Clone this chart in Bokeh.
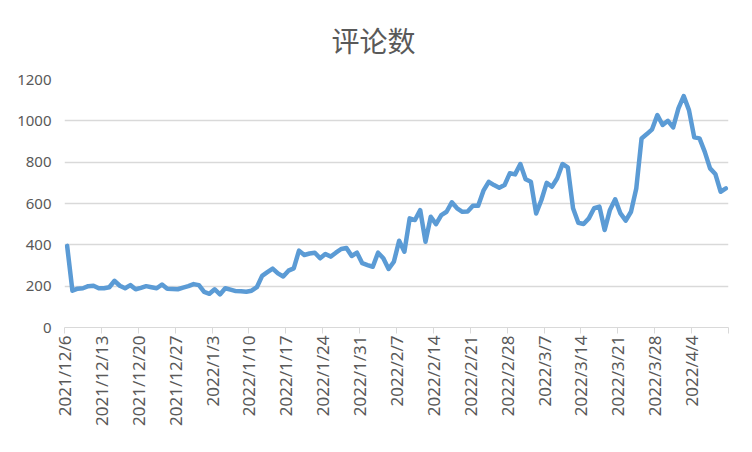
from bokeh.plotting import figure
from bokeh.models import ColumnDataSource, FixedTicker, Range1d
from bokeh.embed import file_html
from bokeh.resources import INLINE

# 评论数, one value per day from 2021/12/6 to 2022/4/10
comments = [395, 178, 188, 190, 200, 202, 190, 190, 195, 226,
            202, 190, 205, 185, 192, 200, 195, 190, 208, 187,
            186, 185, 193, 200, 210, 205, 172, 163, 185, 160,
            190, 183, 176, 175, 173, 178, 195, 250, 268, 285,
            262, 247, 275, 286, 372, 351, 358, 362, 335, 356,
            343, 362, 380, 385, 346, 362, 311, 302, 294, 362,
            335, 283, 318, 420, 367, 528, 520, 568, 415, 536,
            500, 544, 560, 606, 577, 560, 561, 589, 589, 662,
            705, 689, 676, 689, 746, 741, 791, 717, 705, 552,
            617, 700, 681, 722, 791, 775, 577, 507, 501, 528,
            577, 585, 472, 569, 620, 552, 517, 560, 673, 915,
            936, 959, 1028, 980, 1000, 968, 1060, 1120, 1052, 920,
            915, 850, 770, 743, 657, 673]

# weekly tick labels (every 7 days from the first day)
tick_labels = ["2021/12/6", "2021/12/13", "2021/12/20", "2021/12/27",
               "2022/1/3", "2022/1/10", "2022/1/17", "2022/1/24",
               "2022/1/31", "2022/2/7", "2022/2/14", "2022/2/21",
               "2022/2/28", "2022/3/7", "2022/3/14", "2022/3/21",
               "2022/3/28", "2022/4/4", ""]

n_days = len(comments)
# points sit in the middle of each day slot (Excel date axis style)
source = ColumnDataSource(data=dict(
    x=[i + 0.5 for i in range(n_days)],
    y=comments,
))

grey = "#595959"
light = "#d9d9d9"

p = figure(width=736, height=436, output_backend="svg", toolbar_location=None,
           x_range=Range1d(0, (len(tick_labels) - 1) * 7),
           y_range=Range1d(0, 1200),
           min_border_left=64, min_border_right=8,
           min_border_top=79, min_border_bottom=109)

p.title.text = "评论数"
p.title.align = "left"
p.title.offset = 267
p.title.vertical_align = "top"
p.title.standoff = 36
p.title.text_font = "Noto Sans CJK SC"
p.title.text_font_size = "28px"
p.title.text_font_style = "normal"
p.title.text_color = grey

p.line("x", "y", source=source, line_color="#5b9bd5", line_width=4.5,
       line_join="round", line_cap="round")

ticks = [i * 7 for i in range(len(tick_labels))]
p.xaxis.ticker = FixedTicker(ticks=ticks)
p.xaxis.major_label_overrides = {t: lab for t, lab in zip(ticks, tick_labels)}
p.xaxis.major_label_orientation = 3.14159265 / 2
p.xaxis.axis_line_color = light
p.xaxis.major_tick_line_color = light
p.xaxis.major_tick_out = 6
p.xaxis.major_tick_in = 0
p.xaxis.minor_tick_line_color = None
p.xaxis.major_label_standoff = 2
p.xaxis.major_label_text_font = "Noto Sans"
p.xaxis.major_label_text_font_size = "17px"
p.xaxis.major_label_text_color = grey

p.yaxis.ticker = FixedTicker(ticks=[0, 200, 400, 600, 800, 1000, 1200])
p.yaxis.axis_line_color = None
p.yaxis.major_tick_line_color = None
p.yaxis.minor_tick_line_color = None
p.yaxis.major_label_standoff = 7
p.yaxis.major_label_text_font = "Noto Sans"
p.yaxis.major_label_text_font_size = "15px"
p.yaxis.major_label_text_color = grey

p.xgrid.grid_line_color = None
p.ygrid.grid_line_color = light
p.ygrid.grid_line_width = 1.3
p.outline_line_color = None

open("out.html", "w").write(file_html(p, INLINE))
